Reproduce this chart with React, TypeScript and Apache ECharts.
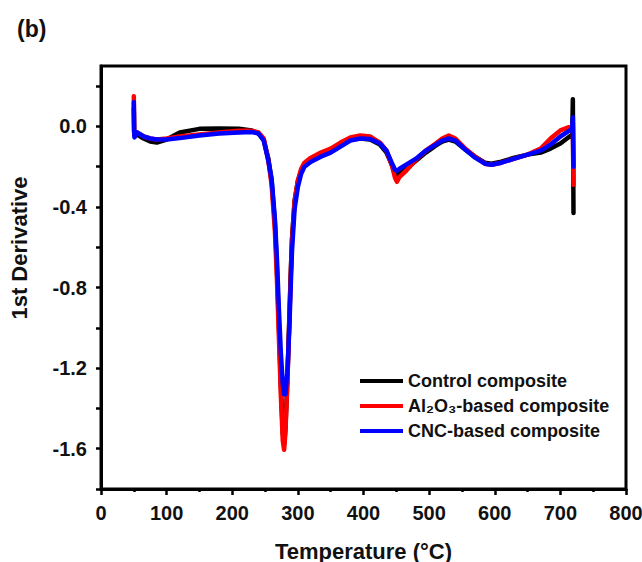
import React, { useEffect, useRef } from "react";
import * as echarts from "echarts";

const temps = [50, 50.5, 51, 55, 65, 75, 85, 100, 120, 150, 180, 210, 230, 240, 248, 255, 260, 265, 268, 271, 274, 277, 279, 281, 284, 287, 289, 291, 295, 300, 305, 310, 320, 335, 350, 365, 380, 395, 410, 425, 435, 443, 448, 451, 455, 465, 480, 495, 510, 520, 530, 540, 555, 570, 585, 595, 610, 630, 650, 670, 685, 700, 712, 718, 719, 720];

const controlVals = [0.09, -0.03, -0.04, -0.04, -0.06, -0.075, -0.08, -0.065, -0.03, -0.012, -0.01, -0.012, -0.02, -0.035, -0.07, -0.16, -0.27, -0.48, -0.7, -0.98, -1.28, -1.52, -1.58, -1.5, -1.26, -0.95, -0.74, -0.56, -0.37, -0.27, -0.22, -0.19, -0.165, -0.14, -0.12, -0.09, -0.065, -0.06, -0.065, -0.09, -0.13, -0.19, -0.235, -0.245, -0.23, -0.21, -0.17, -0.13, -0.095, -0.075, -0.065, -0.075, -0.115, -0.15, -0.18, -0.185, -0.175, -0.155, -0.14, -0.13, -0.11, -0.085, -0.055, -0.04, 0.135, -0.43];

const aluminaVals = [0.15, -0.02, -0.045, -0.03, -0.05, -0.06, -0.065, -0.06, -0.05, -0.04, -0.03, -0.022, -0.022, -0.03, -0.06, -0.17, -0.29, -0.52, -0.75, -1.04, -1.33, -1.56, -1.605, -1.52, -1.27, -0.96, -0.75, -0.57, -0.37, -0.27, -0.21, -0.18, -0.155, -0.13, -0.11, -0.08, -0.055, -0.045, -0.05, -0.08, -0.12, -0.19, -0.255, -0.275, -0.25, -0.22, -0.165, -0.12, -0.085, -0.06, -0.045, -0.06, -0.11, -0.15, -0.185, -0.19, -0.18, -0.16, -0.14, -0.11, -0.06, -0.02, -0.005, 0.0, 0.02, -0.29];

const cncVals = [0.12, -0.02, -0.055, -0.03, -0.05, -0.06, -0.065, -0.065, -0.058, -0.045, -0.035, -0.03, -0.028, -0.035, -0.07, -0.17, -0.26, -0.46, -0.65, -0.9, -1.12, -1.28, -1.33, -1.33, -1.22, -1.0, -0.8, -0.62, -0.41, -0.3, -0.235, -0.2, -0.175, -0.15, -0.13, -0.1, -0.07, -0.06, -0.062, -0.085, -0.12, -0.18, -0.215, -0.22, -0.21, -0.19, -0.16, -0.12, -0.09, -0.07, -0.06, -0.07, -0.115, -0.155, -0.185, -0.19, -0.18, -0.16, -0.14, -0.12, -0.09, -0.05, -0.025, -0.01, 0.045, -0.2];

const seriesNames = ["Control composite", "Al₂O₃-based composite", "CNC-based composite"];
const seriesColors = ["#000000", "#ff0000", "#0000ff"];

const FONT = "'Liberation Sans', Arial, sans-serif";

export default function App() {
  const ref = useRef<HTMLDivElement>(null);
  useEffect(() => {
    if (!ref.current) return;
    const chart = echarts.init(ref.current, undefined, { renderer: "svg" });
    const valueSets = [controlVals, aluminaVals, cncVals];
    const axisLineStyle = { color: "#000", width: 3 };
    chart.setOption({
      animation: false,
      backgroundColor: "#fff",
      title: {
        text: "(b)",
        left: 17,
        top: 17,
        padding: 0,
        textStyle: { fontSize: 23, fontWeight: "bold", color: "#111", fontFamily: FONT },
      },
      grid: {
        left: 101,
        right: 16,
        top: 66,
        bottom: 73,
        outerBoundsMode: "none",
        containLabel: false,
        show: true,
        borderColor: "#000",
        borderWidth: 3,
        backgroundColor: "transparent",
      },
      legend: {
        orient: "vertical",
        left: 360,
        top: 372,
        itemWidth: 43,
        itemHeight: 4,
        itemGap: 7,
        icon: "rect",
        padding: 0,
        data: seriesNames,
        textStyle: { fontSize: 18, fontWeight: "bold", color: "#111", fontFamily: FONT },
      },
      xAxis: {
        type: "value",
        min: 0,
        max: 800,
        interval: 100,
        name: "Temperature (°C)",
        nameLocation: "middle",
        nameGap: 51,
        nameTextStyle: { fontSize: 22, fontWeight: "bold", color: "#111", fontFamily: FONT },
        axisLine: { onZero: false, lineStyle: axisLineStyle },
        axisTick: { length: 6, lineStyle: { color: "#000", width: 2.5 } },
        minorTick: { show: true, splitNumber: 2, length: 3, lineStyle: { color: "#000", width: 2.5 } },
        axisLabel: { fontSize: 20, fontWeight: "bold", color: "#111", margin: 14, fontFamily: FONT },
        splitLine: { show: false },
      },
      yAxis: {
        type: "value",
        min: -1.8,
        max: 0.3,
        interval: 0.2,
        axisLine: { onZero: false, lineStyle: axisLineStyle },
        axisTick: { show: true, length: 5, lineStyle: { color: "#000", width: 2.5 } },
        axisLabel: {
          fontSize: 20,
          fontWeight: "bold",
          color: "#111",
          margin: 14,
          fontFamily: FONT,
          showMaxLabel: false,
          formatter: (v: number) => {
            const k = Math.round(v * 10);
            if (Math.abs(v * 10 - k) > 1e-6 || k % 4 !== 0 || k > 0) return "";
            return k === 0 ? "0.0" : v.toFixed(1);
          },
        },
        splitLine: { show: false },
      },
      graphic: [
        {
          type: "text",
          x: 19,
          y: 248,
          rotation: Math.PI / 2,
          style: {
            text: "1st Derivative",
            fontSize: 22,
            fontWeight: "bold",
            fill: "#111",
            fontFamily: FONT,
            textAlign: "center",
            textVerticalAlign: "middle",
          },
        },
      ],
      series: seriesNames.map((name, i) => ({
        name,
        type: "line",
        symbol: "none",
        showSymbol: false,
        color: seriesColors[i],
        lineStyle: { width: 4.5, color: seriesColors[i], join: "round", cap: "round" },
        data: temps.map((t, k) => [t, valueSets[i][k]]),
      })),
    });
    return () => chart.dispose();
  }, []);
  return (
    <div
      ref={ref}
      style={{ position: "absolute", left: 0, top: 0, width: 642, height: 562 }}
    />
  );
}
